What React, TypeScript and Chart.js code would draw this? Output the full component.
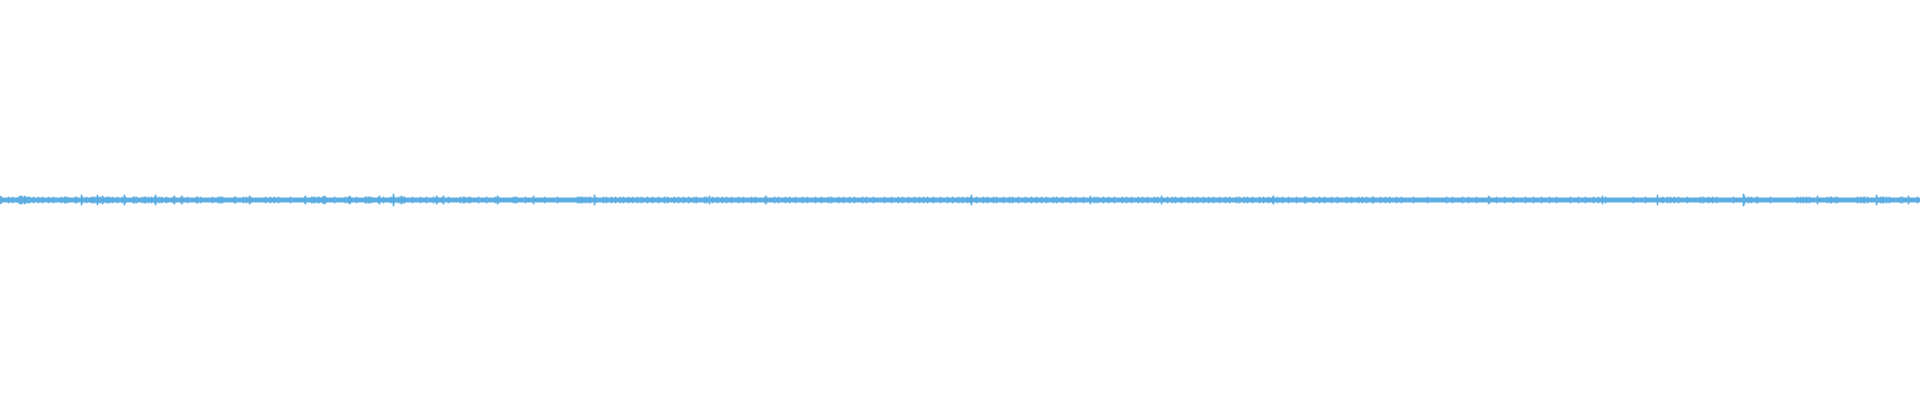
import React, { useEffect, useRef } from "react";
import { Chart, registerables } from "chart.js";

Chart.register(...registerables);

// Waveform half-amplitudes, one bar per pixel column. Segment 1: x 0-479
const waveA: number[] = [
  4,3,2,2,2,2,2,2,3,2,2,2,3,2,2,2,2,2,3,3,4,4,3,2,4,3,3,2,3,3,2,2,2,3,2,2,2,2,3,2,
  2,2,3,2,2,2,2,2,3,2,2,2,2,3,2,2,2,2,2,2,2,3,2,2,3,3,2,3,2,2,2,2,2,2,2,3,3,2,2,2,
  2,5,3,2,2,2,3,2,2,2,2,3,3,2,3,2,3,5,3,2,3,2,4,3,2,2,3,2,3,3,2,2,3,2,2,2,2,3,2,2,
  2,2,3,2,5,3,2,2,2,2,2,2,2,3,3,2,3,2,2,2,2,2,3,2,3,3,2,2,3,2,2,3,2,2,3,5,3,2,2,3,
  2,3,2,2,2,2,3,2,2,2,2,2,2,3,4,2,2,2,2,2,2,4,3,2,2,2,2,3,2,2,2,2,2,2,2,2,3,3,2,2,
  3,2,2,2,2,2,2,2,2,2,2,2,3,2,2,2,2,2,3,3,2,3,3,2,2,2,2,2,2,2,2,2,2,2,3,3,2,2,2,2,
  2,2,2,3,2,2,3,2,2,4,3,2,2,2,2,2,2,2,2,2,2,2,2,2,2,3,2,2,2,2,3,2,2,2,3,2,2,2,3,2,
  2,2,2,2,2,2,2,2,2,2,3,2,2,2,2,2,2,2,2,2,2,2,2,2,3,4,2,2,2,2,2,3,2,3,3,2,2,3,2,3,
  2,2,3,3,4,3,2,2,2,2,2,2,2,2,3,2,2,2,2,2,2,2,2,2,2,3,2,2,3,4,3,2,2,2,2,2,3,2,2,2,
  2,2,2,2,2,3,3,2,3,3,2,3,2,2,2,2,2,2,3,4,2,2,2,3,2,2,2,2,2,2,3,2,3,6,3,2,2,2,3,2,
  3,4,2,3,3,2,2,2,2,2,2,2,3,2,2,2,2,2,2,2,3,2,2,2,2,2,3,2,2,2,2,2,2,3,2,2,4,3,2,2,
  2,2,3,4,2,2,2,2,3,2,2,2,2,2,2,2,2,2,2,2,3,2,2,3,3,2,2,2,3,2,3,2,2,2,2,2,2,2,3,2,
];
// Segment 2: x 480-959
const waveB: number[] = [
  2,2,2,2,2,2,3,2,2,2,2,2,2,2,2,3,2,4,3,2,2,2,2,2,2,2,2,2,2,2,2,2,2,3,2,3,3,2,2,2,
  2,2,2,2,2,3,2,2,2,2,2,2,2,4,2,2,2,2,2,2,2,2,2,2,3,2,2,2,2,2,2,2,2,2,2,2,2,3,2,2,
  2,2,2,2,2,2,2,2,2,2,2,2,2,2,2,2,2,3,2,3,2,3,3,2,2,3,2,2,3,2,3,2,2,2,5,3,2,2,2,2,
  2,2,2,3,2,2,3,2,2,2,2,3,2,2,2,3,2,2,2,2,3,2,2,3,2,2,2,2,3,2,2,2,3,2,2,2,2,3,2,2,
  2,3,2,2,2,2,2,3,2,2,2,2,3,2,2,2,2,2,3,2,2,2,2,2,3,2,2,3,2,2,2,2,2,2,3,2,2,2,3,2,
  2,2,2,3,2,2,2,2,3,2,2,2,2,2,3,2,3,2,2,2,2,2,2,2,3,2,3,2,2,4,2,2,3,2,2,2,2,3,2,2,
  2,2,3,2,2,2,3,2,2,2,2,3,2,2,2,2,2,2,3,2,2,2,2,3,2,2,2,2,2,2,2,3,2,2,2,3,2,2,2,2,
  2,2,2,2,2,4,3,2,2,2,2,2,2,2,3,2,2,2,3,2,2,2,2,2,2,3,2,2,2,3,2,2,2,2,2,3,2,2,2,2,
  2,2,3,2,2,2,2,3,2,2,2,2,2,2,2,3,2,2,2,2,2,3,2,2,2,2,2,2,3,2,2,3,2,2,2,2,2,2,3,2,
  2,2,2,3,2,2,2,2,2,3,2,2,2,2,3,2,2,2,2,2,2,2,3,2,2,2,3,2,2,2,2,2,2,3,2,2,2,2,2,2,
  2,2,2,2,3,2,2,2,2,2,2,3,2,2,2,2,2,2,3,2,2,2,3,2,2,2,2,2,3,2,2,2,2,2,3,2,2,2,2,3,
  2,2,2,3,2,2,2,3,2,2,2,2,2,3,2,2,2,2,2,2,3,2,2,2,2,2,2,3,2,2,2,2,3,2,2,2,2,2,3,2,
];
// Segment 3: x 960-1439
const waveC: number[] = [
  2,2,3,2,2,2,2,3,2,2,3,5,2,2,2,2,3,2,2,2,2,2,2,3,2,2,2,3,2,2,2,2,2,3,2,2,3,2,2,2,
  2,2,2,3,2,2,2,2,2,3,2,2,3,2,2,2,2,2,3,2,2,2,2,2,2,3,2,2,2,2,2,3,2,2,2,2,3,2,2,2,
  2,3,2,2,2,2,3,2,2,2,2,2,2,3,2,2,3,2,2,2,2,2,3,2,2,2,2,2,2,2,3,2,2,2,2,3,2,2,2,2,
  2,2,2,3,2,2,2,2,2,2,4,2,2,2,3,2,2,3,2,2,2,2,2,3,2,2,2,2,3,2,2,2,2,2,3,2,2,2,2,2,
  2,2,3,2,2,2,3,2,2,2,2,3,2,2,2,2,2,2,3,2,2,2,3,2,2,2,2,3,2,2,2,2,2,2,3,2,2,3,2,2,
  2,4,2,2,2,2,2,3,2,2,2,2,3,2,2,3,2,2,2,2,2,3,2,2,2,2,2,2,3,2,2,2,3,2,2,2,2,3,2,2,
  2,2,2,3,2,2,2,2,3,2,2,2,2,3,2,2,2,2,2,3,2,2,2,2,2,3,2,2,2,3,2,2,2,2,2,2,3,2,2,3,
  2,2,2,2,3,2,2,3,2,2,2,2,3,2,2,2,2,2,2,3,2,2,2,3,2,2,2,2,3,2,2,2,3,4,2,2,2,3,2,2,
  2,2,3,2,2,2,2,2,3,2,2,2,2,2,2,2,3,2,2,2,2,2,2,2,3,3,2,2,2,2,2,2,2,3,2,2,2,2,2,3,
  2,2,2,2,3,2,2,2,2,2,2,3,2,2,2,2,2,3,2,2,2,2,2,2,2,2,3,2,2,2,2,3,2,2,2,2,2,2,3,2,
  2,2,3,2,2,2,3,2,2,2,2,2,3,3,2,2,2,2,2,2,3,2,2,2,2,3,2,2,2,3,2,2,2,2,2,2,3,2,2,2,
  2,3,2,2,2,2,2,2,2,2,2,2,2,3,2,2,2,2,2,2,2,2,2,2,2,2,2,3,2,2,2,2,2,2,2,2,2,2,2,2,
];
// Segment 4: x 1440-1919
const waveD: number[] = [
  2,2,2,2,2,2,3,2,2,2,2,2,3,2,2,2,2,2,2,2,2,2,3,2,2,2,2,2,3,2,2,2,2,2,2,2,3,2,2,2,
  2,2,2,2,2,2,2,2,4,3,2,2,2,2,2,2,3,2,2,2,2,2,2,2,3,2,2,2,2,2,2,2,2,3,2,2,2,2,2,2,
  2,2,2,2,2,3,2,2,2,2,2,2,2,3,2,2,2,2,2,2,2,3,2,2,2,2,2,2,2,3,2,2,2,2,2,2,3,2,2,2,
  2,2,2,2,2,2,2,2,2,2,3,2,2,2,2,2,2,2,3,2,2,2,2,2,2,3,2,2,2,2,2,2,2,3,2,2,2,2,3,2,
  2,2,4,2,2,3,2,2,2,2,2,2,2,2,2,2,2,2,2,2,2,2,2,2,2,2,2,2,2,2,2,2,2,3,2,2,2,2,2,2,
  2,2,2,2,2,3,2,2,2,2,2,2,2,2,2,2,2,5,2,2,2,2,3,2,2,2,2,3,2,2,3,2,2,2,3,2,2,2,3,2,
  2,2,2,2,2,2,2,3,2,2,2,2,2,2,2,2,2,2,2,2,3,2,2,3,2,2,2,2,3,2,2,2,3,2,2,2,3,2,2,2,
  2,2,2,2,2,2,2,2,2,2,2,2,2,3,2,2,2,2,2,2,2,2,2,6,4,2,2,2,3,2,2,3,2,2,2,2,3,3,2,2,
  2,2,2,2,2,2,2,2,2,2,3,2,2,2,2,2,2,2,2,2,2,2,2,2,2,2,2,2,2,2,2,2,2,2,2,2,2,3,2,2,
  3,2,2,3,2,2,3,2,2,3,2,2,2,2,2,2,2,4,2,2,2,2,2,2,2,2,2,3,2,2,3,3,2,2,2,3,2,3,2,2,
  2,2,2,2,2,2,2,2,2,2,2,2,2,2,2,2,2,3,2,2,3,2,2,3,3,2,2,3,2,2,2,2,2,2,2,2,5,3,2,2,
  3,2,3,3,2,2,3,2,2,3,2,2,2,2,2,2,2,2,2,2,3,2,3,2,2,2,2,2,4,2,2,2,2,2,2,2,2,3,2,2,
];

const WAVE_COLOR = "#5DADE2";

export default function App() {
  const canvasRef = useRef<HTMLCanvasElement | null>(null);

  useEffect(() => {
    const amps = [...waveA, ...waveB, ...waveC, ...waveD];
    const labels = amps.map((_, i) => String(i));
    const data = amps.map((a) => [-a, a] as [number, number]);
    const chart = new Chart(canvasRef.current!, {
      type: "bar",
      data: {
        labels,
        datasets: [
          {
            data: data as any,
            backgroundColor: WAVE_COLOR,
            borderWidth: 0,
            barPercentage: 1,
            categoryPercentage: 1,
          },
        ],
      },
      options: {
        animation: false,
        responsive: false,
        maintainAspectRatio: false,
        layout: { padding: 0 },
        plugins: { legend: { display: false }, tooltip: { enabled: false } },
        scales: {
          x: { display: false },
          y: { display: false, min: -200, max: 200 },
        },
      },
    });
    return () => chart.destroy();
  }, []);

  return (
    <div style={{ position: "absolute", left: 0, top: 0, width: 1920, height: 400, background: "#fff" }}>
      <canvas ref={canvasRef} width={1920} height={400} />
    </div>
  );
}
